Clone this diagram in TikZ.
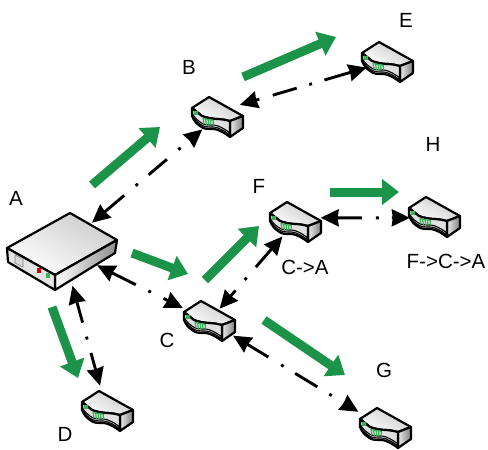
\documentclass[tikz,border=0pt]{standalone}
\usepackage{fontspec}
\setmainfont{Liberation Sans}
\usetikzlibrary{arrows.meta}
\definecolor{flowgreen}{HTML}{1B9348}
\definecolor{ledgreen}{HTML}{35B558}
\tikzset{
  anchorpt/.style={circle,inner sep=0pt,minimum size=#1},
  lbl/.style={font=\fontsize{20.5}{22}\selectfont,inner sep=0pt},
  link/.style={line width=2.9pt,
    {Stealth[length=18pt,width=17pt,inset=1pt]}-{Stealth[length=18pt,width=17pt,inset=1pt]}},
  flow/.style={draw=flowgreen,line width=9pt,-{Triangle[length=17pt,width=25pt,fill=flowgreen]}},
  outline/.style={draw=black,line width=2.2pt,line join=round},
  router/.pic={
    % top face
    \path[outline,top color=black!22,bottom color=white,shading angle=-30]
      (-25,-9) -- (-8,-20) -- (26,-1) -- (13,4) .. controls (8,3) and (5,2) .. (1,2)
      .. controls (-4,2) and (-10,1) .. (-15,-1) -- cycle;
    % right side
    \path[outline,left color=black!8,right color=black!50]
      (13,4) -- (26,-1) -- (26,11) -- (13,20) -- cycle;
    % wavy front
    \path[outline,fill=black!12]
      (-25,-9) -- (-25,-1) .. controls (-23,4) and (-20,7) .. (-17,9)
      .. controls (-13,12) and (-10,12) .. (-7,12) .. controls (-3,12) and (-1,12) .. (1,13)
      .. controls (6,15) and (9,17) .. (13,20) -- (13,4)
      .. controls (8,3) and (5,2) .. (1,2) .. controls (-4,2) and (-10,1) .. (-15,-1) -- cycle;
    \draw[line width=1.1pt] (-25,-4) .. controls (-23,0) and (-20,3) .. (-17,5)
      .. controls (-13,8) and (-10,8) .. (-7,8) .. controls (-3,8) and (-1,8) .. (1,9)
      .. controls (6,11) and (9,13) .. (13,16);
    \draw[line width=1.1pt] (-25,-2) .. controls (-23,2) and (-20,5) .. (-17,7)
      .. controls (-13,10) and (-10,10) .. (-7,10) .. controls (-3,10) and (-1,10) .. (1,11)
      .. controls (6,13) and (9,15) .. (13,18);
    \fill[ledgreen] (-23,-6) rectangle (-19,-2);
    \draw[ledgreen,line width=1.2pt] (-14,1) -- (-13,7) (-11.5,2) -- (-10.5,8) (-9,2.5) -- (-8,8) (-6.5,3) -- (-6,8) (-4,3) -- (-3.5,8) (-14,1.5) -- (-3,3.5);
  },
  bigrouter/.pic={
    \path[outline,top color=black!20,bottom color=white,shading angle=-30]
      (-55,0) -- (8,-35) -- (55,-8) -- (-7,27) -- cycle;
    \path[outline,left color=white,right color=black!45]
      (-7,27) -- (55,-8) -- (53,5) -- (-7,42) -- cycle;
    \path[outline,fill=black!10]
      (-55,0) -- (-54,14) -- (-7,42) -- (-7,27) -- cycle;
    \draw[black!50,fill=black!15,line width=.6pt] (-47,7) -- (-39,11) -- (-39,19) -- (-47,15) -- cycle;
    \fill[red!80!black] (-25,20) rectangle (-21,25);
    \fill[ledgreen] (-16,25) rectangle (-12,30);
  }
}
\begin{document}
\begin{tikzpicture}[x=1pt,y=-1pt]
\useasboundingbox (0,0) rectangle (488,450);
% flows
\coordinate (f1s) at (92,185); \coordinate (f1e) at (160,127);
\coordinate (f2s) at (243,77); \coordinate (f2e) at (336,37);
\coordinate (f3s) at (132,253); \coordinate (f3e) at (188,274);
\coordinate (f4s) at (205,280); \coordinate (f4e) at (259,226);
\coordinate (f5s) at (330,192); \coordinate (f5e) at (399,192);
\coordinate (f6s) at (264,320); \coordinate (f6e) at (345,375);
\coordinate (f7s) at (52,307); \coordinate (f7e) at (78,378);
\foreach \a/\b in {f1s/f1e,f2s/f2e,f3s/f3e,f4s/f4e,f5s/f5e,f6s/f6e,f7s/f7e}
  \draw[flow] (\a) -- (\b);
% routers
\pic at (62,248) {bigrouter};
\pic at (217,117) {router};
\pic at (387,62) {router};
\pic at (295,222) {router};
\pic at (434,217) {router};
\pic at (209,321) {router};
\pic at (385,428) {router};
\pic at (107,411) {router};
% anchors
\node[anchorpt=78pt] (A) at (62,248) {};
\node[anchorpt=32pt] (B) at (217,117) {};
\node[anchorpt=32pt] (E) at (387,62) {};
\node[anchorpt=32pt] (F) at (295,222) {};
\node[anchorpt=32pt] (H) at (434,217) {};
\node[anchorpt=32pt] (C) at (209,321) {};
\node[anchorpt=32pt] (G) at (385,428) {};
\node[anchorpt=32pt] (D) at (107,411) {};
% links
\draw[link,shorten >=3pt,dash pattern=on 26pt off 15pt on 2.9pt off 14pt on 24pt off 15pt on 2.9pt off 14pt on 40pt] (A) -- (B);
\draw[link,shorten >=13pt,dash pattern=on 27pt off 14pt on 2.9pt off 14pt on 40pt] (A) -- (C);
\draw[link,shorten >=10pt,dash pattern=on 22pt off 14.5pt on 2.9pt off 14pt on 60pt] (A) -- (D);
\draw[link,shorten <=10pt,shorten >=5pt,dash pattern=on 4pt off 14pt on 25pt off 13pt on 2.9pt off 13pt on 60pt] (B.35) -- (E.195);
\draw[link,shorten >=3pt,dash pattern=on 8pt off 14pt on 2.9pt off 14pt on 60pt] (C) -- (F);
\draw[link,shorten <=12pt,shorten >=15pt,dash pattern=on 25pt off 15pt on 2.9pt off 13.4pt on 26pt off 14pt on 2.9pt off 14pt on 60pt] (C) -- (G);
\draw[link,shorten <=10pt,shorten >=8pt,dash pattern=on 25pt off 14pt on 2.9pt off 13pt on 40pt] (F.15) -- (H.183);
% labels
\node[lbl] (la) at (16,198) {A};
\node[lbl] (lb) at (189,67) {B};
\node[lbl] (le) at (406,20) {E};
\node[lbl] (lf) at (259,186) {F};
\node[lbl] (lh) at (433,144) {H};
\node[lbl] (lc) at (167,340) {C};
\node[lbl] (lg) at (384,370) {G};
\node[lbl] (ld) at (65,434) {D};
\node[lbl] (lca) at (305,267) {C->A};
\node[lbl] (lfca) at (446,261) {F->C->A};
\end{tikzpicture}
\end{document}
